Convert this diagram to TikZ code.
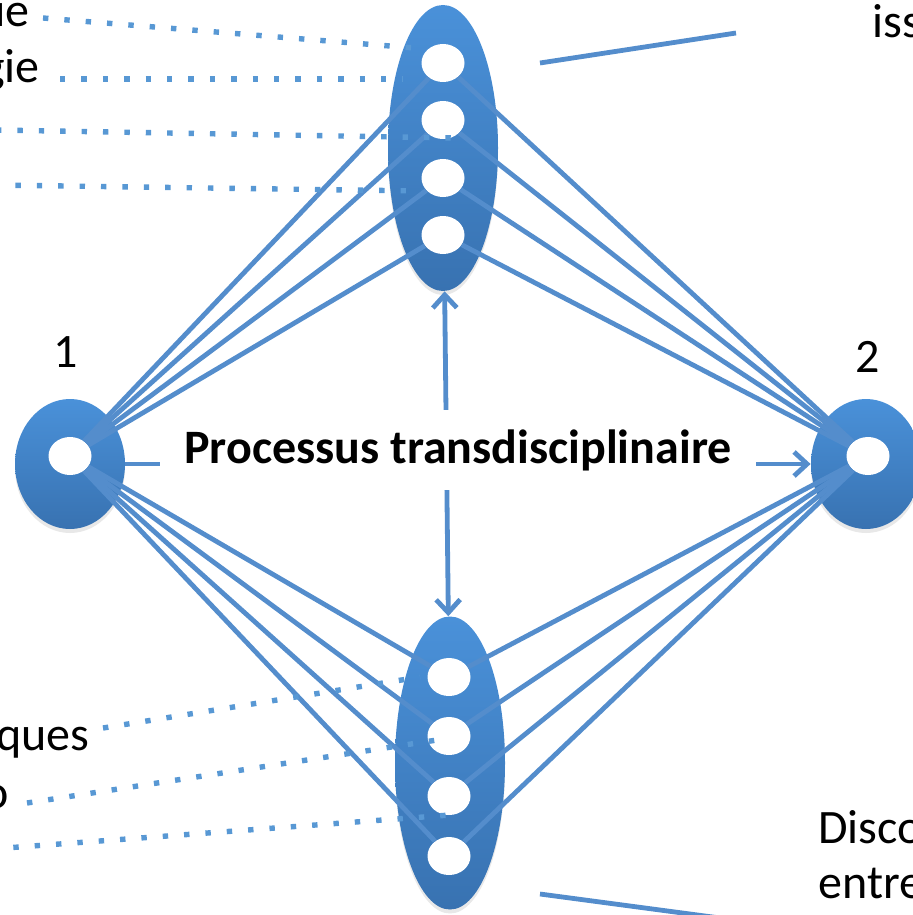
\documentclass[tikz,border=0pt]{standalone}
\usepackage{fontspec}
\setmainfont{Carlito}
\usepackage{tikz}
\usetikzlibrary{shapes}
\usetikzlibrary{arrows.meta}
\usetikzlibrary{shadows}
\definecolor{blueup}{RGB}{74,145,217}
\definecolor{bluedown}{RGB}{56,114,177}
\definecolor{blueline}{RGB}{84,141,204}
\definecolor{bluedot}{RGB}{88,152,212}
\newcommand{\hole}[3]{\node[hole] (#1) at ( #2 , #3 ) {};}
\newcommand{\lablleft}[4]{\node[lbl,anchor=base east] (#1) at ( #2 , #3 ) {#4};}
\newcommand{\lablright}[4]{\node[lbl,anchor=base west] (#1) at ( #2 , #3 ) {#4};}
\tikzset{
  big/.style={ellipse, inner sep=0pt, draw=none, top color=blueup, bottom color=bluedown,
    drop shadow={shadow xshift=0pt, shadow yshift=-2pt, opacity=0.18}},
  hole/.style={ellipse, inner sep=0pt, draw=none, fill=white, minimum width=21.5pt, minimum height=19pt},
  link/.style={blueline, line width=2.4pt},
  dots/.style={bluedot, line width=2.7pt, dash pattern=on 2.7pt off 8pt},
  lbl/.style={inner sep=0pt, font=\fontsize{24pt}{28pt}\selectfont}
}
\begin{document}
\begin{tikzpicture}[x=0.5pt,y=-0.5pt,>={Straight Barb[length=6.5pt,width=12pt]}]
        \useasboundingbox (0,0) rectangle (913,915);

        % big ellipses
        \node[big, minimum width=55pt, minimum height=143pt] (top) at (443,148) {};
        \node[big, minimum width=55pt, minimum height=146.5pt] (bot) at (450,763) {};
        \node[big, minimum width=55pt, minimum height=65pt] (lft) at (70,464) {};
        \node[big, minimum width=55pt, minimum height=65pt] (rgt) at (866,464) {};

        % holes
        \hole{in1}{70}{456}
        \hole{in2}{868}{456}

        \hole{t1}{443}{63}
        \hole{t2}{443}{120}
        \hole{t3}{443}{178}
        \hole{t4}{443}{235}

        \hole{b1}{449}{677}
        \hole{b2}{449}{736}
        \hole{b3}{449}{796}
        \hole{b4}{449}{856}

        % links
        \draw[link] (in1) -- (t1);
        \draw[link] (in1) -- (t2);
        \draw[link] (in1) -- (t3);
        \draw[link] (in1) -- (t4);
        \draw[link] (in2) -- (t1);
        \draw[link] (in2) -- (t2);
        \draw[link] (in2) -- (t3);
        \draw[link] (in2) -- (t4);

        \draw[link] (in1) -- (b1);
        \draw[link] (in1) -- (b2);
        \draw[link] (in1) -- (b3);
        \draw[link] (in1) -- (b4);
        \draw[link] (in2) -- (b1);
        \draw[link] (in2) -- (b2);
        \draw[link] (in2) -- (b3);
        \draw[link] (in2) -- (b4);

        % arrows
        \draw[link, ->] (lft) -- (rgt);
        \draw[link, <->] (top) -- (bot);

        \node[fill=white, inner sep=0pt, minimum width=298pt, minimum height=40pt,
              font=\fontsize{24pt}{28pt}\selectfont\bfseries] (proc) at (458,450) {Processus transdisciplinaire};

        \node[lbl] (one) at (66,352) {1};
        \node[lbl] (two) at (868,357) {2};

        % labels
        \lablleft{lue}{30}{27}{ue}
        \lablleft{lgie}{40}{83}{gie}
        \lablleft{lques}{90}{750}{ques}
        \lablleft{lo}{9}{808}{o}
        \lablright{liss}{872}{38}{iss}
        \lablright{ldisco}{818}{843}{Disco}
        \lablright{lentre}{818}{898}{entre}

        % dotted leaders
        \coordinate (d1s) at (43,18);   \coordinate (d1e) at (427,49);
        \coordinate (d2s) at (60,79);   \coordinate (d2e) at (403,79);
        \coordinate (d3s) at (-4,130);  \coordinate (d3e) at (455,138);
        \coordinate (d4s) at (-6,185);  \coordinate (d4e) at (422,191);
        \coordinate (d5s) at (103,728); \coordinate (d5e) at (420,677);
        \coordinate (d6s) at (27,803);  \coordinate (d6e) at (450,738);
        \coordinate (d7s) at (-8,849);  \coordinate (d7e) at (450,815);

        \draw[dots] (d1s) -- (d1e);
        \draw[dots] (d2s) -- (d2e);
        \draw[dots] (d3s) -- (d3e);
        \draw[dots] (d4s) -- (d4e);
        \draw[dots] (d5s) -- (d5e);
        \draw[dots] (d6s) -- (d6e);
        \draw[dots] (d7s) -- (d7e);

        % callout lines
        \coordinate (c1s) at (540,63);  \coordinate (c1e) at (736,33);
        \coordinate (c2s) at (540,894); \coordinate (c2e) at (720,918);
        \draw[link] (c1s) -- (c1e);
        \draw[link] (c2s) -- (c2e);

\end{tikzpicture}
\end{document}
